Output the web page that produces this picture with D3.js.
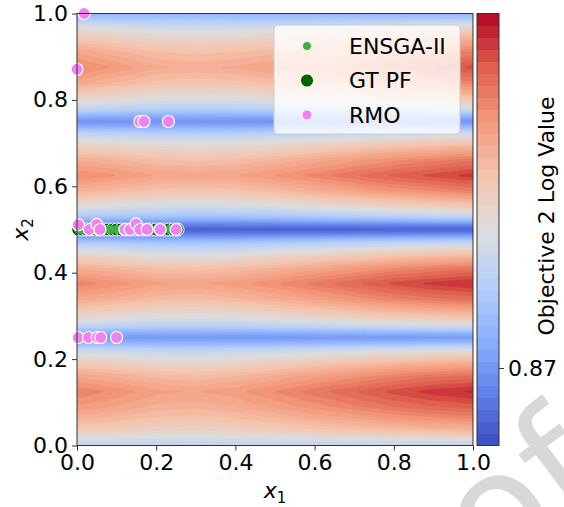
<!DOCTYPE html>
<html>
<head>
<meta charset="utf-8">
<script src="https://cdn.jsdelivr.net/npm/d3@7"></script>
<style>
  body { margin: 0; background: #fff; }
  text { font-family: "DejaVu Sans", sans-serif; }
</style>
</head>
<body>
<svg id="chart" width="564" height="507"></svg>
<script>
// ---- data ----
var x1Knots = [0, 0.1, 0.2, 0.3, 0.4, 0.5, 0.6, 0.7, 0.8, 0.9, 1.0];
// valleys of objective 2 (log) along x2
var troughX2 = [0, 0.25, 0.5, 0.75, 1.0];
var troughValues = [0.960, 0.872, 0.818, 0.866, 0.905];
// ridge values between the valleys (x2 = .125, .375, .625, .875) along x1
var peakRows = [
  [1.112, 1.100, 1.085, 1.081, 1.089, 1.104, 1.120, 1.135, 1.151, 1.163, 1.171],
  [1.110, 1.098, 1.084, 1.080, 1.088, 1.102, 1.118, 1.134, 1.150, 1.162, 1.170],
  [1.104, 1.093, 1.081, 1.077, 1.081, 1.093, 1.108, 1.124, 1.139, 1.151, 1.163],
  [1.108, 1.090, 1.073, 1.069, 1.073, 1.081, 1.093, 1.104, 1.120, 1.135, 1.151]
];
// how fast the value climbs out of a valley (distance in x2 -> share of the rise)
var dipOffsets = [0, 0.01, 0.02, 0.03, 0.045, 0.065, 0.09, 0.125];
var dipShape = [0, 0.1, 0.25, 0.4, 0.55, 0.7, 0.86, 1];

var vMin = 0.80, vMax = 1.19, nLevels = 36;
var cbTicks = [0.87];
var axisTicks = [0, 0.2, 0.4, 0.6, 0.8, 1.0];

var gtX1 = [0.003, 0.013, 0.024, 0.035, 0.046, 0.057, 0.068, 0.079, 0.09, 0.1, 0.111, 0.122,
            0.133, 0.144, 0.155, 0.166, 0.177, 0.188, 0.199, 0.21, 0.221, 0.232, 0.243, 0.254];
var gtX2 = 0.5;
var ensgaX1 = [0.004, 0.02, 0.037, 0.052, 0.07, 0.085, 0.103, 0.118, 0.138, 0.152, 0.17,
               0.186, 0.2, 0.218, 0.234, 0.25];
var ensgaX2 = 0.5;
var rmoX1 = [0.018, 0.0, 0.159, 0.169, 0.231,
             0.003, 0.031, 0.05, 0.058, 0.121, 0.134, 0.149, 0.159, 0.177, 0.21, 0.25,
             0.003, 0.029, 0.051, 0.06, 0.1];
var rmoX2 = [1.0, 0.871, 0.75, 0.75, 0.75,
             0.511, 0.5, 0.512, 0.5, 0.5, 0.5, 0.513, 0.5, 0.5, 0.5, 0.5,
             0.25, 0.25, 0.25, 0.25, 0.25];

var legendNames = ["ENSGA-II", "GT PF", "RMO"];
var legendColors = ["#3cb043", "#006400", "#ee82ee"];
var legendRadius = [4.5, 6.5, 5];

// matplotlib coolwarm, sampled every 1/8
var coolwarm = ["#3b4cc0", "#6282ea", "#8db0fe", "#b8d0f9", "#dddddd",
                "#f5c4ad", "#f49a7b", "#de604d", "#b40426"];

// ---- layout ----
var plot = {left: 77, top: 13.5, width: 396, height: 432};
var cb = {left: 477, width: 22};

var svg = d3.select("#chart");

var x = d3.scaleLinear().domain([0, 1]).range([plot.left, plot.left + plot.width]);
var y = d3.scaleLinear().domain([0, 1]).range([plot.top + plot.height, plot.top]);

var cmap = d3.scaleLinear()
    .domain(d3.range(coolwarm.length).map(function(i) { return i / (coolwarm.length - 1); }))
    .range(coolwarm)
    .interpolate(d3.interpolateRgb);
var norm = d3.scaleLinear().domain([vMin, vMax]).range([0, 1]);
var levels = d3.range(nLevels + 1).map(function(i) { return vMin + i * (vMax - vMin) / nLevels; });
function levelColor(i) { return cmap(norm((levels[i] + levels[i + 1]) / 2)); }

// ---- field on a fine grid, built from the read profiles ----
var nx = 120, ny = 432;
var peakScales = peakRows.map(function(r) { return d3.scaleLinear().domain(x1Knots).range(r); });
var dip = d3.scaleLinear().domain(dipOffsets).range(dipShape).clamp(true);
var grid = new Array(nx * ny);
for (var r = 0; r < ny; r++) {
  var x2 = 1 - (r + 0.5) / ny;
  var k = Math.min(3, Math.floor(x2 / 0.25));
  var dLo = x2 - troughX2[k], dHi = troughX2[k + 1] - x2;
  var tv = dLo < dHi ? troughValues[k] : troughValues[k + 1];
  var s = dip(Math.min(dLo, dHi));
  for (var c = 0; c < nx; c++) {
    var p = peakScales[k]((c + 0.5) / nx);
    grid[r * nx + c] = tv + (p - tv) * s;
  }
}

var contours = d3.contours().size([nx, ny]).thresholds(levels.slice(0, nLevels))(grid);

svg.append("clipPath").attr("id", "clip")
  .append("rect")
    .attr("x", plot.left).attr("y", plot.top)
    .attr("width", plot.width).attr("height", plot.height);

var heat = svg.append("g").attr("clip-path", "url(#clip)")
  .append("g")
    .attr("transform", "translate(" + plot.left + "," + plot.top + ") scale(" +
          (plot.width / nx) + "," + (plot.height / ny) + ")");

heat.selectAll("path")
    .data(contours)
  .enter().append("path")
    .attr("d", d3.geoPath())
    .attr("fill", function(d, i) { return levelColor(i); })
    .attr("stroke", function(d, i) { return levelColor(i); })
    .attr("stroke-width", 0.3);

// ---- points ----
var pts = svg.append("g");

pts.selectAll(".gt")
    .data(gtX1)
  .enter().append("circle")
    .attr("class", "gt")
    .attr("cx", function(d) { return x(d); })
    .attr("cy", y(gtX2))
    .attr("r", 6.5)
    .attr("fill", legendColors[1])
    .attr("stroke", "#fff").attr("stroke-width", 1);

pts.selectAll(".ensga")
    .data(ensgaX1)
  .enter().append("circle")
    .attr("class", "ensga")
    .attr("cx", function(d) { return x(d); })
    .attr("cy", y(ensgaX2))
    .attr("r", 4.5)
    .attr("fill", legendColors[0]);

pts.selectAll(".rmo")
    .data(rmoX1)
  .enter().append("circle")
    .attr("class", "rmo")
    .attr("cx", function(d) { return x(d); })
    .attr("cy", function(d, i) { return y(rmoX2[i]); })
    .attr("r", 6)
    .attr("fill", legendColors[2])
    .attr("stroke", "#fff").attr("stroke-width", 1.2);

// ---- frame & axes ----
svg.append("rect")
    .attr("x", plot.left).attr("y", plot.top)
    .attr("width", plot.width).attr("height", plot.height)
    .attr("fill", "none").attr("stroke", "#333").attr("stroke-width", 1);

var xAxis = svg.append("g")
    .attr("transform", "translate(0," + (plot.top + plot.height) + ")")
    .call(d3.axisBottom(x).tickValues(axisTicks).tickFormat(d3.format(".1f")).tickSize(5).tickPadding(4));
var yAxis = svg.append("g")
    .attr("transform", "translate(" + plot.left + ",0)")
    .call(d3.axisLeft(y).tickValues(axisTicks).tickFormat(d3.format(".1f")).tickSize(5).tickPadding(4));
[xAxis, yAxis].forEach(function(a) {
  a.select(".domain").remove();
  a.selectAll("text").attr("font-size", 22).attr("fill", "#000")
    .style("font-family", "'DejaVu Sans', sans-serif");
  a.selectAll("line").attr("stroke", "#333");
});

var xl = svg.append("text")
    .attr("x", x(0.5)).attr("y", 498)
    .attr("text-anchor", "middle").attr("font-size", 22);
xl.append("tspan").attr("font-style", "italic").text("x");
xl.append("tspan").attr("font-size", 15).attr("dy", 5).text("1");

var yl = svg.append("text")
    .attr("transform", "translate(28," + y(0.5) + ") rotate(-90)")
    .attr("text-anchor", "middle").attr("font-size", 22);
yl.append("tspan").attr("font-style", "italic").text("x");
yl.append("tspan").attr("font-size", 15).attr("dy", 5).text("2");

// ---- legend ----
var lg = svg.append("g");
lg.append("rect")
    .attr("x", 274).attr("y", 25).attr("width", 186).attr("height", 109)
    .attr("rx", 4)
    .attr("fill", "#fff").attr("fill-opacity", 0.8)
    .attr("stroke", "#cccccc").attr("stroke-width", 1);
var rows = lg.selectAll(".legend")
    .data(legendNames)
  .enter().append("g")
    .attr("class", "legend")
    .attr("transform", function(d, i) { return "translate(0," + (46 + i * 34.5) + ")"; });
rows.append("circle")
    .attr("cx", 307).attr("cy", 0)
    .attr("r", function(d, i) { return legendRadius[i]; })
    .attr("fill", function(d, i) { return legendColors[i]; })
    .attr("stroke", "#fff").attr("stroke-width", 0.8);
rows.append("text")
    .attr("x", 349).attr("y", 0).attr("dy", "0.36em")
    .attr("font-size", 22)
    .text(function(d) { return d; });

// ---- colorbar ----
var cbScale = d3.scaleLinear().domain([vMin, vMax]).range([plot.top + plot.height, plot.top]);
svg.append("g").selectAll("rect")
    .data(d3.range(nLevels))
  .enter().append("rect")
    .attr("x", cb.left)
    .attr("y", function(i) { return cbScale(levels[i + 1]); })
    .attr("width", cb.width)
    .attr("height", function(i) { return cbScale(levels[i]) - cbScale(levels[i + 1]) + 0.5; })
    .attr("fill", function(i) { return levelColor(i); });
svg.append("rect")
    .attr("x", cb.left).attr("y", plot.top)
    .attr("width", cb.width).attr("height", plot.height)
    .attr("fill", "none").attr("stroke", "#333").attr("stroke-width", 1);
var cbAxis = svg.append("g")
    .attr("transform", "translate(" + (cb.left + cb.width) + ",0)")
    .call(d3.axisRight(cbScale).tickValues(cbTicks).tickFormat(d3.format(".2f")).tickSize(5).tickPadding(4));
cbAxis.select(".domain").remove();
cbAxis.selectAll("text").attr("font-size", 22).attr("fill", "#000")
    .style("font-family", "'DejaVu Sans', sans-serif");
cbAxis.selectAll("line").attr("stroke", "#333");

svg.append("text")
    .attr("transform", "translate(554,216) rotate(-90)")
    .attr("text-anchor", "middle").attr("font-size", 22)
    .text("Objective 2 Log Value");

// ---- watermark ----
svg.append("text")
    .attr("transform", "translate(612,492) rotate(-37)")
    .attr("text-anchor", "end").attr("font-size", 158)
    .attr("fill", "#d4d4d4").attr("fill-opacity", 0.9)
    .text("Proof");
</script>
</body>
</html>
